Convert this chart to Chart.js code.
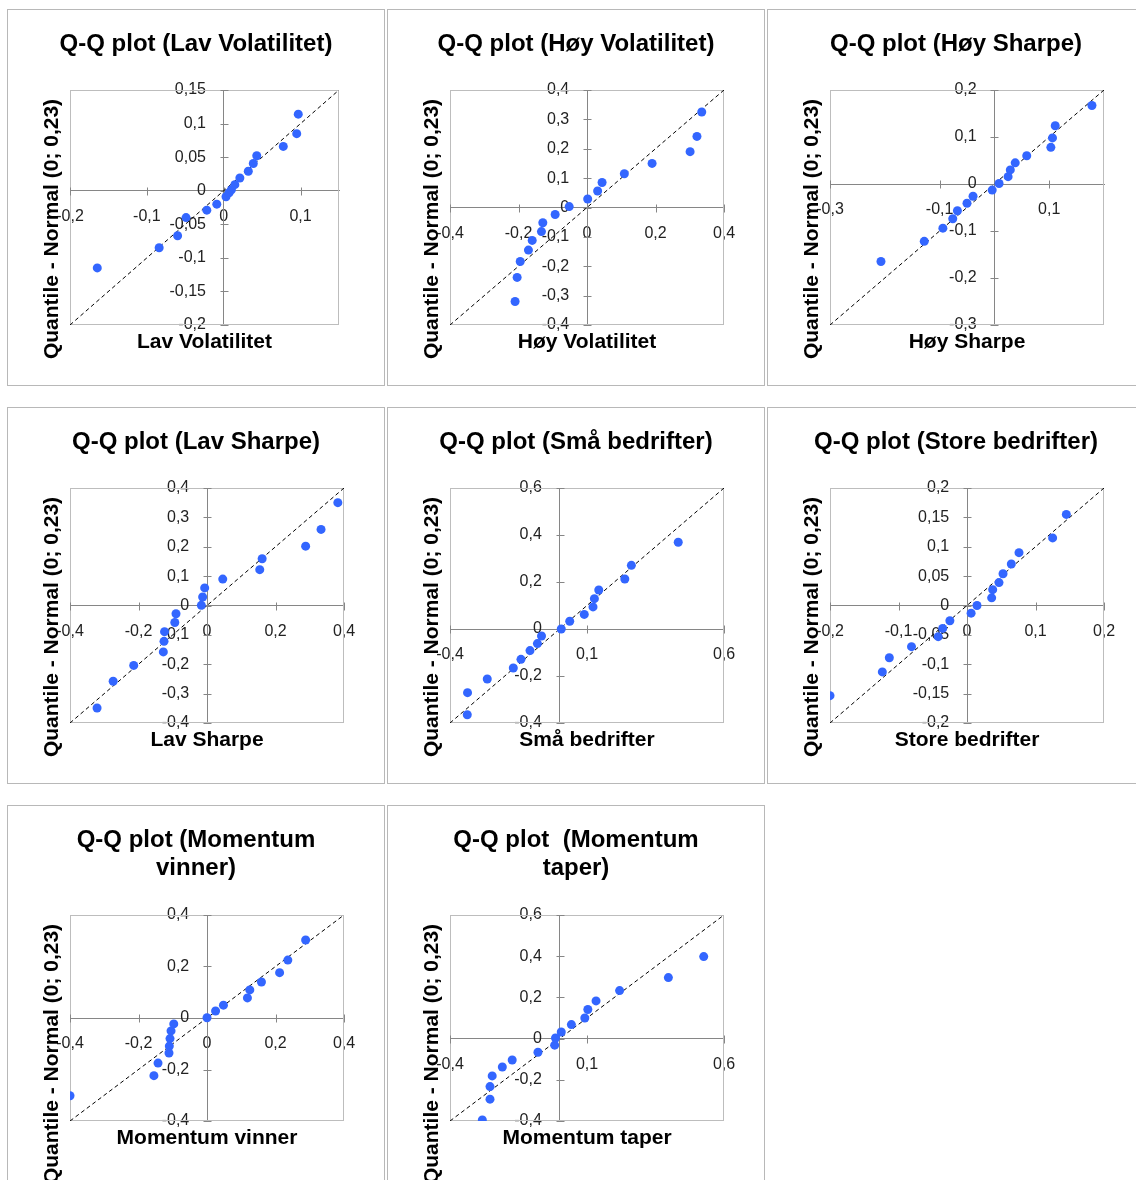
<!DOCTYPE html>
<html>
<head>
<meta charset="utf-8">
<script src="https://cdn.jsdelivr.net/npm/chart.js@4.4.1/dist/chart.umd.min.js"></script>
<style>
  html, body { margin: 0; padding: 0; background: #fff; width: 1136px; height: 1180px; overflow: hidden; }
  .panel { position: absolute; width: 376px; height: 375px; border: 1px solid #b8b8b8; background: #fff; }
  .panel canvas { display: block; }
</style>
</head>
<body>
<script>
// titles
var chartTitles = [
  ['Q-Q plot (Lav Volatilitet)'],
  ['Q-Q plot (Høy Volatilitet)'],
  ['Q-Q plot (Høy Sharpe)'],
  ['Q-Q plot (Lav Sharpe)'],
  ['Q-Q plot (Små bedrifter)'],
  ['Q-Q plot (Store bedrifter)'],
  ['Q-Q plot (Momentum', 'vinner)'],
  ['Q-Q plot  (Momentum', 'taper)']
];
var xTitles = ['Lav Volatilitet', 'Høy Volatilitet', 'Høy Sharpe', 'Lav Sharpe',
  'Små bedrifter', 'Store bedrifter', 'Momentum vinner', 'Momentum taper'];
var yTitle = 'Quantile - Normal (0; 0,23)';

// sample quantiles (x) and normal quantiles (y)
var lavVolX = [-0.1645, -0.084, -0.060, -0.049, -0.022, -0.009, 0.003, 0.007, 0.010, 0.0145, 0.021, 0.032, 0.0385, 0.043, 0.0775, 0.095, 0.097];
var lavVolY = [-0.115, -0.085, -0.067, -0.040, -0.029, -0.020, -0.009, -0.003, 0.0015, 0.009, 0.019, 0.029, 0.0405, 0.052, 0.066, 0.085, 0.114];
var hoyVolX = [-0.210, -0.204, -0.195, -0.171, -0.160, -0.133, -0.129, -0.093, -0.052, 0.002, 0.031, 0.044, 0.109, 0.190, 0.301, 0.321, 0.335];
var hoyVolY = [-0.320, -0.238, -0.184, -0.145, -0.112, -0.082, -0.052, -0.024, 0.003, 0.029, 0.056, 0.085, 0.115, 0.150, 0.190, 0.242, 0.325];
var hoySharpeX = [-0.207, -0.128, -0.094, -0.076, -0.0675, -0.050, -0.039, -0.004, 0.0085, 0.025, 0.029, 0.038, 0.059, 0.103, 0.106, 0.111, 0.178];
var hoySharpeY = [-0.165, -0.122, -0.094, -0.074, -0.057, -0.041, -0.026, -0.013, 0.001, 0.0156, 0.030, 0.045, 0.060, 0.078, 0.098, 0.124, 0.167];
var lavSharpeX = [-0.321, -0.274, -0.214, -0.1275, -0.1255, -0.124, -0.094, -0.0905, -0.0165, -0.0127, -0.0068, 0.046, 0.154, 0.161, 0.288, 0.333, 0.382];
var lavSharpeY = [-0.349, -0.258, -0.204, -0.158, -0.122, -0.089, -0.058, -0.028, 0.0006, 0.029, 0.060, 0.090, 0.122, 0.159, 0.202, 0.259, 0.350];
var smaX = [-0.337, -0.336, -0.264, -0.169, -0.141, -0.108, -0.081, -0.066, 0.006, 0.037, 0.090, 0.122, 0.127, 0.143, 0.238, 0.262, 0.433];
var smaY = [-0.365, -0.271, -0.213, -0.166, -0.129, -0.092, -0.062, -0.030, 0.000, 0.033, 0.062, 0.094, 0.129, 0.166, 0.213, 0.271, 0.369];
var storeX = [-0.200, -0.1236, -0.1134, -0.081, -0.042, -0.0355, -0.025, 0.006, 0.0146, 0.036, 0.0375, 0.0467, 0.0526, 0.0647, 0.0759, 0.125, 0.145];
var storeY = [-0.1535, -0.113, -0.089, -0.070, -0.053, -0.039, -0.026, -0.013, 0.000, 0.013, 0.027, 0.039, 0.054, 0.0706, 0.090, 0.115, 0.155];
var vinnerX = [-0.400, -0.155, -0.143, -0.111, -0.110, -0.108, -0.105, -0.097, 0.000, 0.025, 0.048, 0.118, 0.125, 0.159, 0.212, 0.236, 0.288];
var vinnerY = [-0.302, -0.224, -0.175, -0.136, -0.109, -0.080, -0.050, -0.023, 0.001, 0.027, 0.050, 0.078, 0.109, 0.140, 0.176, 0.225, 0.303];
var taperX = [-0.282, -0.254, -0.254, -0.246, -0.209, -0.173, -0.079, -0.018, -0.015, 0.006, 0.043, 0.092, 0.103, 0.133, 0.219, 0.397, 0.526];
var taperY = [-0.395, -0.294, -0.233, -0.181, -0.138, -0.104, -0.066, -0.032, 0.003, 0.032, 0.068, 0.100, 0.141, 0.183, 0.233, 0.296, 0.398];

// axis ranges (same on both axes) and tick labels
var rangeMin = [-0.2, -0.4, -0.3, -0.4, -0.4, -0.2, -0.4, -0.4];
var rangeMax = [0.15, 0.4, 0.2, 0.4, 0.6, 0.2, 0.4, 0.6];
var xTicks = [
  [-0.2, -0.1, 0, 0.1],
  [-0.4, -0.2, 0, 0.2, 0.4],
  [-0.3, -0.1, 0.1],
  [-0.4, -0.2, 0, 0.2, 0.4],
  [-0.4, 0.1, 0.6],
  [-0.2, -0.1, 0, 0.1, 0.2],
  [-0.4, -0.2, 0, 0.2, 0.4],
  [-0.4, 0.1, 0.6]
];
var yTicks = [
  [-0.2, -0.15, -0.1, -0.05, 0, 0.05, 0.1, 0.15],
  [-0.4, -0.3, -0.2, -0.1, 0, 0.1, 0.2, 0.3, 0.4],
  [-0.3, -0.2, -0.1, 0, 0.1, 0.2],
  [-0.4, -0.3, -0.2, -0.1, 0, 0.1, 0.2, 0.3, 0.4],
  [-0.4, -0.2, 0, 0.2, 0.4, 0.6],
  [-0.2, -0.15, -0.1, -0.05, 0, 0.05, 0.1, 0.15, 0.2],
  [-0.4, -0.2, 0, 0.2, 0.4],
  [-0.4, -0.2, 0, 0.2, 0.4, 0.6]
];
var seriesX = [lavVolX, hoyVolX, hoySharpeX, lavSharpeX, smaX, storeX, vinnerX, taperX];
var seriesY = [lavVolY, hoyVolY, hoySharpeY, lavSharpeY, smaY, storeY, vinnerY, taperY];

var FONT = '"Liberation Sans", Arial, sans-serif';
var colLeft = [7, 387, 767];
var rowTop = [9, 407, 805];

function fmt(v) {
  return String(+(+v).toFixed(2)).replace('.', ',');
}
// y labels sit right-aligned on the zero line, so pad them away from it
function fmtY(v) {
  return fmt(v) + '    ';
}

function panelPlugin(i) {
  return {
    id: 'panel' + i,
    beforeDatasetsDraw: function (chart) {
      var ctx = chart.ctx, a = chart.chartArea;
      var xs = chart.scales.x, ys = chart.scales.y;
      ctx.save();
      ctx.strokeStyle = '#bdbdbd';
      ctx.lineWidth = 1;
      ctx.strokeRect(Math.round(a.left) + 0.5, Math.round(a.top) + 0.5,
        Math.round(a.right - a.left) - 1, Math.round(a.bottom - a.top) - 1);
      // tick marks crossing the axes
      var y0 = Math.round(ys.getPixelForValue(0)) + 0.5;
      var x0 = Math.round(xs.getPixelForValue(0)) + 0.5;
      ctx.strokeStyle = '#868686';
      ctx.beginPath();
      xs.ticks.forEach(function (t) {
        var px = Math.round(xs.getPixelForValue(t.value)) + 0.5;
        ctx.moveTo(px, y0 - 4); ctx.lineTo(px, y0 + 4);
      });
      ys.ticks.forEach(function (t) {
        var py = Math.round(ys.getPixelForValue(t.value)) + 0.5;
        ctx.moveTo(x0 - 4, py); ctx.lineTo(x0 + 4, py);
      });
      ctx.stroke();
      ctx.restore();
    },
    afterDraw: function (chart) {
      var ctx = chart.ctx, a = chart.chartArea;
      ctx.save();
      ctx.fillStyle = '#000';
      ctx.textAlign = 'center';
      ctx.textBaseline = 'middle';
      ctx.font = 'bold 24px ' + FONT;
      chartTitles[i].forEach(function (line, k) {
        ctx.fillText(line, chart.width / 2, 34 + k * 28);
      });
      ctx.font = 'bold 21px ' + FONT;
      ctx.fillText(xTitles[i], (a.left + a.right) / 2, a.bottom + 17);
      ctx.translate(a.left - 18, a.top + 139);
      ctx.rotate(-Math.PI / 2);
      ctx.fillText(yTitle, 0, 0);
      ctx.restore();
    }
  };
}

for (var i = 0; i < 8; i++) {
  (function (i) {
    var col = i % 3, row = Math.floor(i / 3);
    var div = document.createElement('div');
    div.className = 'panel';
    div.style.left = colLeft[col] + 'px';
    div.style.top = rowTop[row] + 'px';
    var cv = document.createElement('canvas');
    cv.width = 376; cv.height = 375;
    div.appendChild(cv);
    document.body.appendChild(div);

    var pts = seriesX[i].map(function (x, k) { return { x: x, y: seriesY[i][k] }; });
    var lo = rangeMin[i], hi = rangeMax[i];
    var tickFont = { family: FONT, size: 16 };

    new Chart(cv.getContext('2d'), {
      type: 'scatter',
      data: {
        datasets: [
          { data: pts, backgroundColor: '#3366ff', borderWidth: 0, pointRadius: 4.5, pointHoverRadius: 4.5 },
          { data: [{ x: lo, y: lo }, { x: hi, y: hi }], showLine: true, borderColor: '#000', borderWidth: 1,
            borderDash: [4, 3], pointRadius: 0, fill: false }
        ]
      },
      options: {
        responsive: false,
        animation: false,
        devicePixelRatio: 1,
        layout: { padding: { left: 62, right: i === 0 ? 45 : 40, top: row === 2 ? 109 : 80, bottom: 60 } },
        plugins: { legend: { display: false }, tooltip: { enabled: false } },
        scales: {
          x: {
            type: 'linear', min: lo, max: hi, position: { y: 0 },
            grid: { display: false, drawTicks: false },
            border: { color: '#868686', width: 1 },
            ticks: { autoSkip: false, maxRotation: 0, padding: 16, font: tickFont, color: '#222', callback: fmt },
            afterBuildTicks: function (s) { s.ticks = xTicks[i].map(function (v) { return { value: v }; }); },
            afterFit: function (s) { s.height = 0; }
          },
          y: {
            type: 'linear', min: lo, max: hi, position: { x: 0 },
            grid: { display: false, drawTicks: false },
            border: { color: '#868686', width: 1 },
            ticks: { autoSkip: false, padding: 0, font: tickFont, color: '#222', callback: fmtY },
            afterBuildTicks: function (s) { s.ticks = yTicks[i].map(function (v) { return { value: v }; }); },
            afterFit: function (s) { s.width = 0; }
          }
        }
      },
      plugins: [panelPlugin(i)]
    });
  })(i);
}
</script>
</body>
</html>
